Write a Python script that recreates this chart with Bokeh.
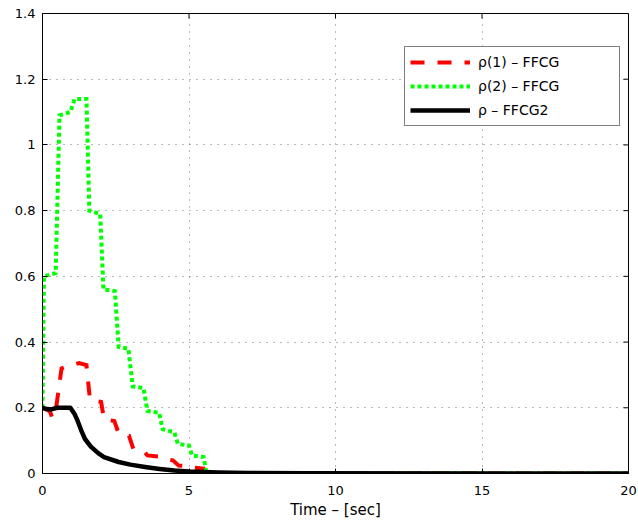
import math
from bokeh.plotting import figure
from bokeh.models import Range1d, FixedTicker, Legend, LegendItem
from bokeh.embed import file_html
from bokeh.resources import INLINE

# ---- data ----
red_t = [0, 0.25, 0.33, 0.45, 0.65, 0.8, 1.25, 1.5, 1.62, 2.0, 2.1, 2.45, 2.6,
         2.95, 3.1, 3.48, 3.58, 3.95, 4.1, 4.45, 4.65, 5.0, 5.1, 5.5, 5.6, 20]
red_y = [0.2, 0.19, 0.17, 0.19, 0.32, 0.325, 0.336, 0.33, 0.225, 0.218, 0.165,
         0.16, 0.122, 0.115, 0.075, 0.066, 0.055, 0.052, 0.045, 0.04, 0.024,
         0.022, 0.018, 0.015, 0.0, 0.0]

green_t = [0, 0.05, 0.45, 0.58, 0.95, 1.1, 1.5, 1.6, 1.97, 2.08, 2.47, 2.6,
           2.93, 3.08, 3.45, 3.58, 3.98, 4.1, 4.5, 4.62, 5.0, 5.1, 5.5, 5.6, 20]
green_y = [0.2, 0.6, 0.61, 1.09, 1.10, 1.14, 1.14, 0.80, 0.79, 0.56, 0.555,
           0.385, 0.38, 0.265, 0.26, 0.19, 0.185, 0.135, 0.125, 0.09, 0.085,
           0.055, 0.05, 0.0, 0.0]

black_t = [0, 0.15, 0.3, 0.5, 0.95, 1.1, 1.2, 1.35, 1.45, 1.65, 1.9, 2.1, 2.6,
           3.0, 3.5, 4.0, 4.5, 5.0, 6.0, 7.0, 9.0, 20]
black_y = [0.2, 0.196, 0.195, 0.2, 0.2, 0.18, 0.16, 0.125, 0.105, 0.082, 0.062,
           0.05, 0.035, 0.027, 0.02, 0.014, 0.009, 0.006, 0.003, 0.0015,
           0.0005, 0.0]

x_ticks = [0, 5, 10, 15, 20]
y_ticks = [0, 0.2, 0.4, 0.6, 0.8, 1.0, 1.2, 1.4]
y_tick_labels = ["0", "0.2", "0.4", "0.6", "0.8", "1", "1.2", "1.4"]
labels = ["\u03c1(1) \u2013 FFCG", "\u03c1(2) \u2013 FFCG", "\u03c1 \u2013 FFCG2"]
x_label = "Time \u2013 [sec]"

FONT = "DejaVu Sans"
X_MIN, X_MAX = 0, 20
Y_MIN, Y_MAX = 0, 1.4

p = figure(width=638, height=526, output_backend="svg", toolbar_location=None,
           x_range=Range1d(X_MIN, X_MAX), y_range=Range1d(Y_MIN, Y_MAX),
           min_border_left=42, min_border_right=10, min_border_top=13,
           min_border_bottom=53)
p.background_fill_color = "white"
p.border_fill_color = "white"
p.outline_line_color = "black"
p.outline_line_width = 1

for ax in (p.xaxis[0], p.yaxis[0]):
    ax.axis_line_color = "black"
    ax.major_tick_in = 5
    ax.major_tick_out = 0
    ax.minor_tick_in = 0
    ax.minor_tick_out = 0
    ax.major_label_text_font = FONT
    ax.major_label_text_font_size = "13px"
    ax.major_label_text_color = "black"
    ax.major_tick_line_color = "black"

p.xaxis[0].ticker = FixedTicker(ticks=x_ticks)
p.yaxis[0].ticker = FixedTicker(ticks=y_ticks)
p.yaxis[0].major_label_overrides = {t: l for t, l in zip(y_ticks, y_tick_labels)}
p.xaxis[0].major_label_standoff = 12
p.yaxis[0].major_label_standoff = 7
p.xaxis[0].axis_label = x_label
p.xaxis[0].axis_label_text_font = FONT
p.xaxis[0].axis_label_text_font_size = "15px"
p.xaxis[0].axis_label_text_font_style = "normal"
p.xaxis[0].axis_label_text_color = "black"
p.xaxis[0].axis_label_standoff = 3

for g in (p.xgrid[0], p.ygrid[0]):
    g.grid_line_color = "black"
    g.grid_line_alpha = 0.55
    g.grid_line_dash = "1 6"
    g.grid_line_width = 1
p.xgrid[0].ticker = FixedTicker(ticks=x_ticks)
p.ygrid[0].ticker = FixedTicker(ticks=y_ticks)

# mirrored inward tick marks on the top and right frame edges (clipped to frame)
p.scatter(x=x_ticks, y=[Y_MAX] * len(x_ticks), marker="dash", size=10,
          angle=math.pi / 2, line_color="black", line_width=1)
p.scatter(x=[X_MAX] * len(y_ticks), y=y_ticks, marker="dash", size=10,
          line_color="black", line_width=1)

r_red = p.line(red_t, red_y, line_color="red", line_width=4, line_dash="14 13",
               line_join="miter", line_cap="butt")
r_green = p.line(green_t, green_y, line_color="#00ff00", line_width=4,
                 line_dash="4 3", line_join="miter", line_cap="butt")
r_black = p.line(black_t, black_y, line_color="black", line_width=4.5,
                 line_join="round")

legend = Legend(items=[LegendItem(label=labels[0], renderers=[r_red]),
                       LegendItem(label=labels[1], renderers=[r_green]),
                       LegendItem(label=labels[2], renderers=[r_black])],
                location=(362, 347))
legend.label_text_font = FONT
legend.label_text_font_size = "14px"
legend.label_text_color = "black"
legend.border_line_color = "black"
legend.border_line_width = 1
legend.background_fill_color = "white"
legend.background_fill_alpha = 1
legend.padding = 5
legend.spacing = 4
legend.margin = 0
legend.glyph_width = 60
legend.glyph_height = 20
legend.label_height = 20
legend.label_standoff = 8
legend.label_width = 136
p.add_layout(legend, "center")

open("out.html", "w").write(file_html(p, INLINE))
